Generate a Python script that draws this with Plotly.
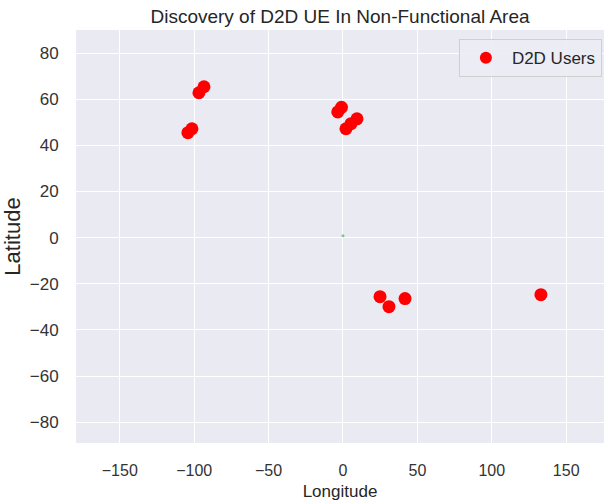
import plotly.graph_objects as go

# D2D user positions (longitude, latitude)
user_lon = [-104.2, -101.5, -96.8, -93.4, -3.5, -1.0, 2.0, 5.4, 9.4, 24.9, 30.9, 41.7, 133.0]
user_lat = [45.5, 47.2, 62.8, 65.4, 54.5, 56.5, 47.2, 49.4, 51.5, -25.6, -29.9, -26.4, -24.7]

# base station at origin
bs_lon = [0.0]
bs_lat = [0.8]

x_ticks = [-150, -100, -50, 0, 50, 100, 150]
y_ticks = [-80, -60, -40, -20, 0, 20, 40, 60, 80]

txt = "#262626"
font = "Liberation Sans, Arial, sans-serif"

fig = go.Figure()
fig.add_trace(go.Scatter(x=bs_lon, y=bs_lat, mode='markers', showlegend=False,
                         marker=dict(color='rgba(60,160,60,0.6)', size=3)))
fig.add_trace(go.Scatter(x=user_lon, y=user_lat, mode='markers', name="D2D Users",
                         marker=dict(color='red', size=13, line=dict(width=0))))

fig.update_layout(
    width=604, height=501,
    margin=dict(l=76, r=0, t=30, b=58),
    paper_bgcolor='white',
    plot_bgcolor='#EAEAF2',
    font=dict(family=font, color=txt, size=14),
    title=dict(text="Discovery of D2D UE In Non-Functional Area", x=(76 + 604) / 2 / 604,
               xanchor='center', y=1 - 16 / 501, yanchor='middle', font=dict(size=19, color=txt)),
    xaxis=dict(title=dict(text='Longitude', font=dict(size=17), standoff=17),
               range=[-179.4, 175.4], tickvals=x_ticks, showgrid=True, gridcolor='white',
               gridwidth=1.3, zeroline=False, showline=False, ticks='outside', ticklen=13,
               tickcolor='rgba(0,0,0,0)', tickfont=dict(size=16, color='#333333'),
               automargin=False),
    yaxis=dict(title=dict(text='Latitude', font=dict(size=22), standoff=5),
               range=[-89, 90], tickvals=y_ticks, showgrid=True, gridcolor='white',
               gridwidth=1.3, zeroline=False, showline=False, ticks='outside', ticklen=13,
               tickcolor='rgba(0,0,0,0)', tickfont=dict(size=17, color='#333333'),
               automargin=False),
    legend=dict(x=0.996, y=0.978, xanchor='right', yanchor='top',
                bgcolor='rgba(236,236,244,0.9)', bordercolor='#d0d0d0', borderwidth=1,
                font=dict(size=17, color=txt), itemsizing='constant', itemwidth=42),
)

fig.write_html("out.html", config={'displayModeBar': False},
               post_script="document.body.style.margin='0px';document.body.style.overflow='hidden';")
